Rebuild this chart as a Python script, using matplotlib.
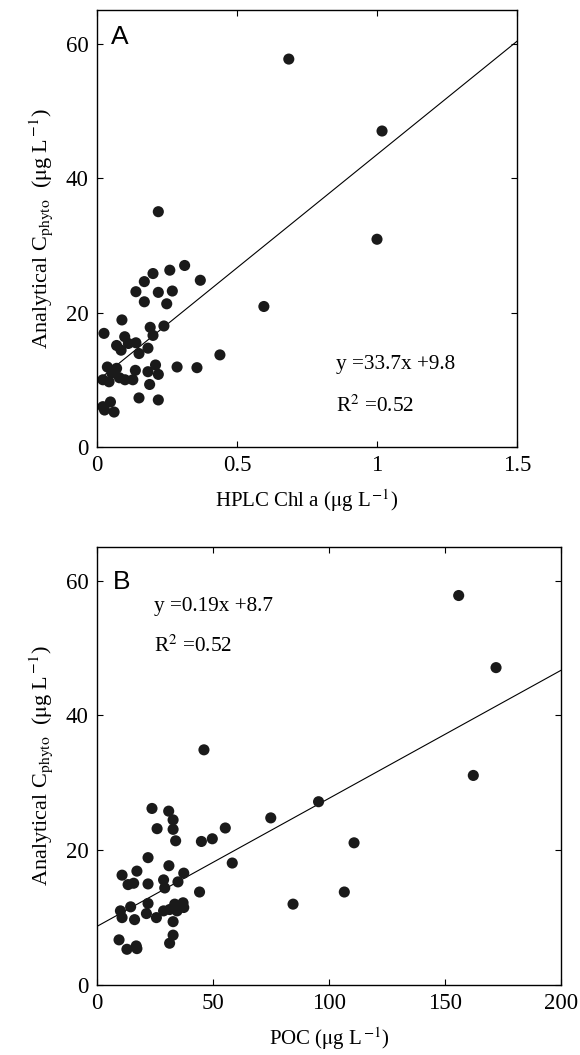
import matplotlib
matplotlib.use('Agg')
import matplotlib.pyplot as plt
import numpy as np

plt.rcParams['font.family'] = ['Liberation Serif', 'DejaVu Serif']
plt.rcParams['mathtext.fontset'] = 'stix'

# panel A: HPLC Chl a vs analytical C_phyto
chl = [0.219, 0.313, 0.260, 0.200, 0.169, 0.369, 0.139, 0.219, 0.269, 0.169,
       0.249, 0.596, 0.089, 0.239, 0.190, 0.025, 0.200, 0.099, 0.139, 0.070,
       0.112, 0.086, 0.182, 0.150, 0.439, 0.037, 0.070, 0.209, 0.286, 0.357,
       0.137, 0.053, 0.182, 0.219, 0.021, 0.043, 0.080, 0.100, 0.128, 0.188,
       0.150, 0.219, 0.021, 0.048, 0.061, 0.027, 0.685, 1.018, 1.000]
cphyto_a = [35.0, 27.0, 26.3, 25.8, 24.6, 24.8, 23.1, 23.0, 23.2, 21.6,
            21.3, 20.9, 18.9, 18.0, 17.8, 16.9, 16.6, 16.4, 15.5, 15.1,
            15.4, 14.4, 14.7, 13.9, 13.7, 11.9, 11.7, 12.2, 11.9, 11.8,
            11.4, 11.0, 11.2, 10.8, 10.0, 9.7, 10.3, 10.0, 10.0, 9.3,
            7.3, 7.0, 6.0, 6.7, 5.2, 5.5, 57.7, 47.0, 30.9]

# panel B: POC vs analytical C_phyto
poc = [46.1, 23.7, 30.9, 32.8, 25.9, 32.8, 33.9, 45.0, 49.7, 55.3,
       74.9, 95.5, 58.3, 22.0, 31.0, 10.8, 17.2, 37.4, 28.7, 13.4,
       15.8, 22.0, 34.9, 29.2, 44.2, 22.0, 14.5, 37.1, 33.5, 31.3,
       37.4, 10.1, 28.7, 34.5, 21.3, 10.8, 25.6, 16.2, 32.8, 32.8,
       31.3, 9.5, 12.9, 16.9, 17.2, 84.5, 155.9, 172.0, 162.2, 110.8,
       106.6]
cphyto_b = [34.9, 26.2, 25.8, 24.5, 23.2, 23.1, 21.4, 21.3, 21.7, 23.3,
            24.8, 27.2, 18.1, 18.9, 17.7, 16.3, 16.9, 16.6, 15.6, 14.9,
            15.1, 15.0, 15.3, 14.4, 13.8, 12.1, 11.6, 12.2, 12.0, 11.2,
            11.5, 11.0, 11.0, 11.0, 10.6, 10.0, 10.0, 9.7, 9.4, 7.4,
            6.2, 6.7, 5.3, 5.8, 5.4, 12.0, 57.8, 47.1, 31.1, 21.1,
            13.8]

fit_a = (33.7, 9.8)
fit_b = (0.19, 8.7)

ylab = r'Analytical C$_{\mathrm{phyto}}$  ($\mathrm{\mu}$g L$^{\,\mathrm{-1}}$)'

fig = plt.figure(figsize=(5.8, 10.55), dpi=100)
axA = fig.add_axes([97 / 580, 1 - 447 / 1055, 420 / 580, 437 / 1055])
axB = fig.add_axes([97 / 580, 1 - 985 / 1055, 464 / 580, 438 / 1055])

for ax, x, y, fit, xmax, xticks in [
        (axA, chl, cphyto_a, fit_a, 1.5, [0, 0.5, 1, 1.5]),
        (axB, poc, cphyto_b, fit_b, 200, [0, 50, 100, 150, 200])]:
    xl = np.array([0, xmax])
    ax.plot(xl, fit[0] * xl + fit[1], color='black', lw=0.8, zorder=1)
    ax.scatter(x, y, s=64, color='#1a1a1a', edgecolors='none', zorder=2)
    ax.set_xlim(0, xmax)
    ax.set_ylim(0, 65)
    ax.set_xticks(xticks)
    ax.set_xticklabels([f'{t:g}' for t in xticks])
    ax.set_yticks([0, 20, 40, 60])
    ax.tick_params(direction='in', top=True, right=True, length=4, width=0.8,
                   labelsize=16.5, pad=6)
    for s in ax.spines.values():
        s.set_linewidth(1.0)
    ax.set_ylabel(ylab, fontsize=16, labelpad=8)

axA.set_xlabel(r'HPLC Chl a ($\mathrm{\mu}$g L$^{\,\mathrm{-1}}$)', fontsize=15, labelpad=8)
axB.set_xlabel(r'POC ($\mathrm{\mu}$g L$^{\,\mathrm{-1}}$)', fontsize=15, labelpad=8)

axA.text(0.05, 60, 'A', fontsize=19, family='Liberation Sans', va='baseline')
axA.text(0.855, 11.6, 'y =33.7x +9.8', fontsize=15.3)
axA.text(0.855, 5.3, r'R$^{2}$ =0.52', fontsize=15.3)

axB.text(7.0, 58.8, 'B', fontsize=19, family='Liberation Sans', va='baseline')
axB.text(24.6, 55.5, 'y =0.19x +8.7', fontsize=15.3)
axB.text(24.6, 49.4, r'R$^{2}$ =0.52', fontsize=15.3)

fig.savefig('out.png', dpi=100)
